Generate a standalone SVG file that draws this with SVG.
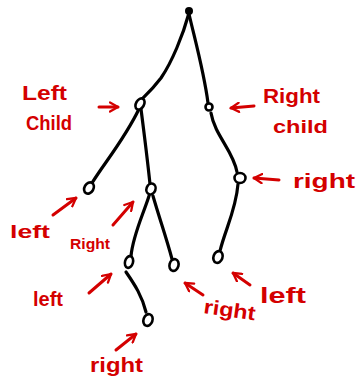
<svg xmlns="http://www.w3.org/2000/svg" width="357" height="376" viewBox="0 0 357 376">
  <defs>
    <marker id="head" viewBox="0 0 10 10" refX="8" refY="5" markerWidth="3.8" markerHeight="3.8" orient="auto" markerUnits="strokeWidth">
      <path d="M1,1 L8,5 L1,9" fill="none" stroke="#d40000" stroke-width="2" stroke-linecap="round" stroke-linejoin="round"/>
    </marker>
  </defs>
  <style>
    .edge { fill: none; stroke: #000; stroke-width: 3.2; stroke-linecap: round; }
    .node { fill: #fff; stroke: #000; stroke-width: 2.6; }
    .dot { fill: #000; }
    .arrow { fill: none; stroke: #d40000; stroke-width: 3; stroke-linecap: round; marker-end: url(#head); }
    .lbl { fill: #d40000; font-family: "Liberation Sans", Arial, sans-serif; font-weight: bold; }
  </style>
  <rect width="357" height="376" fill="#fff"/>

  <!-- tree edges -->
  <g id="connectors">
    <path class="edge" d="M189,13 C183,35 172,62 161,78 C151,91 145,96 141,100"/>
    <path class="edge" d="M189,14 C195,40 204,72 208,103"/>
    <path class="edge" d="M139,109 C124,140 105,162 92,183"/>
    <path class="edge" d="M141,109 C145,140 148,165 150,184"/>
    <path class="edge" d="M211,113 C215,136 233,150 237,172"/>
    <path class="edge" d="M238,184 C236,210 225,230 220,251"/>
    <path class="edge" d="M149,196 C143,215 133,235 131,256"/>
    <path class="edge" d="M153,196 C160,220 167,240 172,259"/>
    <path class="edge" d="M126,272 C135,285 142,296 146,312"/>
  </g>

  <!-- tree nodes -->
  <g id="root"><circle class="dot" cx="189" cy="11" r="4"/></g>
  <g id="left-child"><ellipse class="node" cx="140" cy="104" rx="4" ry="6" transform="rotate(30 140 104)"/></g>
  <g id="right-child"><circle class="node" cx="209" cy="107" r="3.5"/></g>
  <g id="left-left"><ellipse class="node" cx="89" cy="188" rx="4.5" ry="6" transform="rotate(30 89 188)"/></g>
  <g id="left-right"><ellipse class="node" cx="151" cy="189" rx="4.5" ry="5.5" transform="rotate(20 151 189)"/></g>
  <g id="right-right"><ellipse class="node" cx="240" cy="178" rx="5.5" ry="5"/></g>
  <g id="right-right-left"><ellipse class="node" cx="218" cy="257" rx="4.5" ry="6" transform="rotate(20 218 257)"/></g>
  <g id="left-right-left"><ellipse class="node" cx="129" cy="262" rx="4" ry="6" transform="rotate(15 129 262)"/></g>
  <g id="left-right-right"><ellipse class="node" cx="174" cy="265" rx="4.5" ry="6" transform="rotate(15 174 265)"/></g>
  <g id="left-right-left-right"><ellipse class="node" cx="148" cy="320" rx="4.5" ry="6" transform="rotate(20 148 320)"/></g>

  <!-- annotation arrows -->
  <g id="annotation-arrows">
    <path class="arrow" d="M99,107 L118,107"/>
    <path class="arrow" d="M254,106 L231,108"/>
    <path class="arrow" d="M279,180 L254,178"/>
    <path class="arrow" d="M53,215 L76,198"/>
    <path class="arrow" d="M113,225 L133,202"/>
    <path class="arrow" d="M89,293 L111,274"/>
    <path class="arrow" d="M116,350 L136,334"/>
    <path class="arrow" d="M203,295 L185,283"/>
    <path class="arrow" d="M250,285 L233,273"/>
  </g>

  <!-- annotation labels -->
  <g id="labels">
    <text class="lbl" x="22" y="100" font-size="20" textLength="45" lengthAdjust="spacingAndGlyphs">Left</text>
    <text class="lbl" x="26" y="130" font-size="20" textLength="46" lengthAdjust="spacingAndGlyphs">Child</text>
    <text class="lbl" x="263" y="103" font-size="20" textLength="57" lengthAdjust="spacingAndGlyphs">Right</text>
    <text class="lbl" x="273" y="133" font-size="18" textLength="55" lengthAdjust="spacingAndGlyphs">child</text>
    <text class="lbl" x="293" y="188" font-size="20" textLength="62" lengthAdjust="spacingAndGlyphs">right</text>
    <text class="lbl" x="10" y="238" font-size="18" textLength="40" lengthAdjust="spacingAndGlyphs">left</text>
    <text class="lbl" x="70" y="249" font-size="15" textLength="40" lengthAdjust="spacingAndGlyphs">Right</text>
    <text class="lbl" x="33" y="306" font-size="20" textLength="30" lengthAdjust="spacingAndGlyphs">left</text>
    <text class="lbl" x="90" y="372" font-size="20" textLength="53" lengthAdjust="spacingAndGlyphs">right</text>
    <text class="lbl" x="203" y="313" font-size="20" textLength="52" lengthAdjust="spacingAndGlyphs" transform="rotate(8 203 313)">right</text>
    <text class="lbl" x="260" y="303" font-size="22" textLength="46" lengthAdjust="spacingAndGlyphs">left</text>
  </g>
</svg>
